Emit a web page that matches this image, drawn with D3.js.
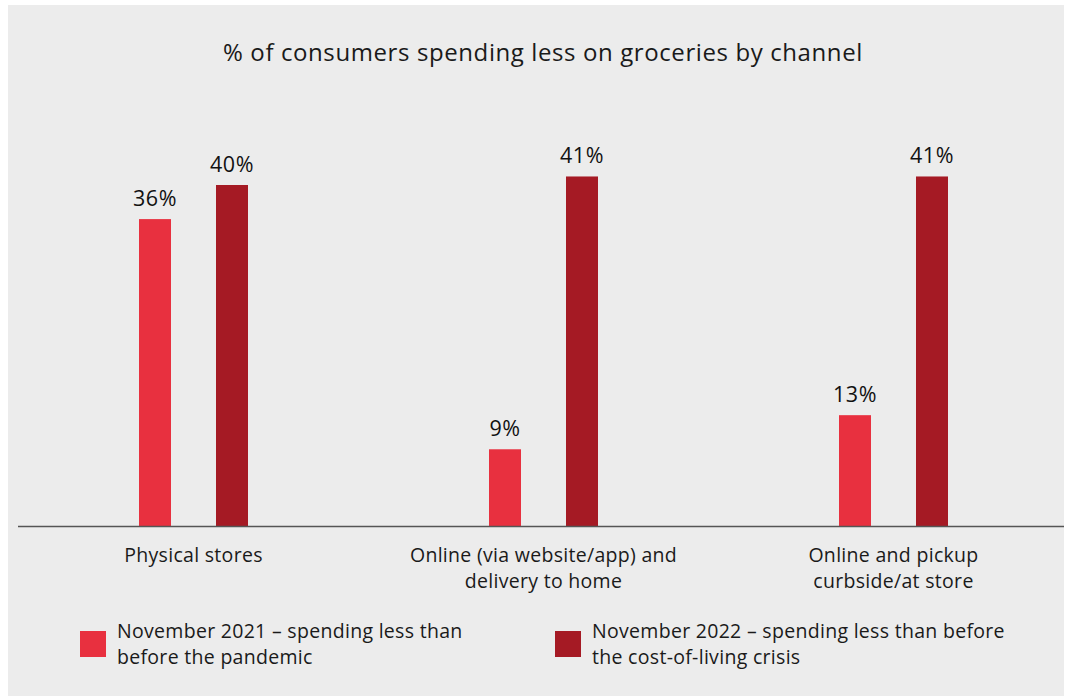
<!DOCTYPE html>
<html>
<head>
<meta charset="utf-8">
<script src="https://cdn.jsdelivr.net/npm/d3@7"></script>
<style>
  body { margin: 0; background: #ffffff; }
  text { font-family: "Open Sans", "Noto Sans", sans-serif; fill: #1a1a1a; }
</style>
</head>
<body>
<div id="chart"></div>
<script>
const categories = [
  ["Physical stores"],
  ["Online (via website/app) and", "delivery to home"],
  ["Online and pickup", "curbside/at store"]
];
const series = ["nov2021", "nov2022"];
const nov2021 = [36, 9, 13];
const nov2022 = [40, 41, 41];
const legendLabels = [
  ["November 2021 \u2013 spending less than", "before the pandemic"],
  ["November 2022 \u2013 spending less than before", "the cost-of-living crisis"]
];
const colors = ["#e8303f", "#a51a24"];

const width = 1065;
const height = 696;

const svg = d3
  .select("#chart")
  .append("svg")
  .attr("width", width)
  .attr("height", height);

// grey panel
svg
  .append("rect")
  .attr("x", 8)
  .attr("y", 5)
  .attr("width", 1056)
  .attr("height", 691)
  .attr("fill", "#ececec");

svg
  .append("text")
  .attr("x", 543)
  .attr("y", 61)
  .attr("text-anchor", "middle")
  .style("font-size", "24px")
  .style("letter-spacing", "0.6px")
  .text("% of consumers spending less on groceries by channel");

const baseY = 526;

const x = d3
  .scaleBand()
  .domain(d3.range(categories.length))
  .range([18.5, 1068.5]);

const xInner = d3.scaleBand().domain(series).range([-77, 77]);

const y = d3.scaleLinear().domain([0, 40]).range([baseY, 185]);

const data = [];
categories.forEach((c, i) => {
  data.push({ i: i, s: "nov2021", v: nov2021[i] });
  data.push({ i: i, s: "nov2022", v: nov2022[i] });
});

const barW = 32;
const cx = (d) => x(d.i) + x.bandwidth() / 2 + xInner(d.s) + xInner.bandwidth() / 2;

const groups = svg
  .selectAll(".bar")
  .data(data)
  .enter()
  .append("g")
  .attr("class", "bar");

groups
  .append("rect")
  .attr("x", (d) => cx(d) - barW / 2)
  .attr("y", (d) => y(d.v))
  .attr("width", barW)
  .attr("height", (d) => baseY - y(d.v))
  .attr("fill", (d) => colors[series.indexOf(d.s)]);

groups
  .append("text")
  .attr("x", (d) => cx(d))
  .attr("y", (d) => y(d.v) - 13)
  .attr("text-anchor", "middle")
  .style("font-size", "21.5px")
  .style("letter-spacing", "0.5px")
  .style("fill", "#111")
  .text((d) => d.v + "%");

// baseline
svg
  .append("line")
  .attr("x1", 18)
  .attr("x2", 1064)
  .attr("y1", baseY + 0.5)
  .attr("y2", baseY + 0.5)
  .attr("stroke", "#555")
  .attr("stroke-width", 1.5);

// category labels
categories.forEach((lines, i) => {
  const t = svg
    .append("text")
    .attr("x", x(i) + x.bandwidth() / 2)
    .attr("y", 562)
    .attr("text-anchor", "middle")
    .style("font-size", "19.5px")
    .style("letter-spacing", "0.3px");
  lines.forEach((l, k) => {
    t.append("tspan")
      .attr("x", x(i) + x.bandwidth() / 2)
      .attr("dy", k === 0 ? 0 : 26)
      .text(l);
  });
});

// legend
const legendX = [80, 555];
legendLabels.forEach((lines, i) => {
  svg
    .append("rect")
    .attr("x", legendX[i])
    .attr("y", 631)
    .attr("width", 26)
    .attr("height", 26)
    .attr("fill", colors[i]);
  const t = svg
    .append("text")
    .attr("x", legendX[i] + 37)
    .attr("y", 638)
    .style("font-size", "19.5px")
    .style("letter-spacing", "0.3px");
  lines.forEach((l, k) => {
    t.append("tspan")
      .attr("x", legendX[i] + 37)
      .attr("dy", k === 0 ? 0 : 26)
      .text(l);
  });
});
</script>
</body>
</html>
